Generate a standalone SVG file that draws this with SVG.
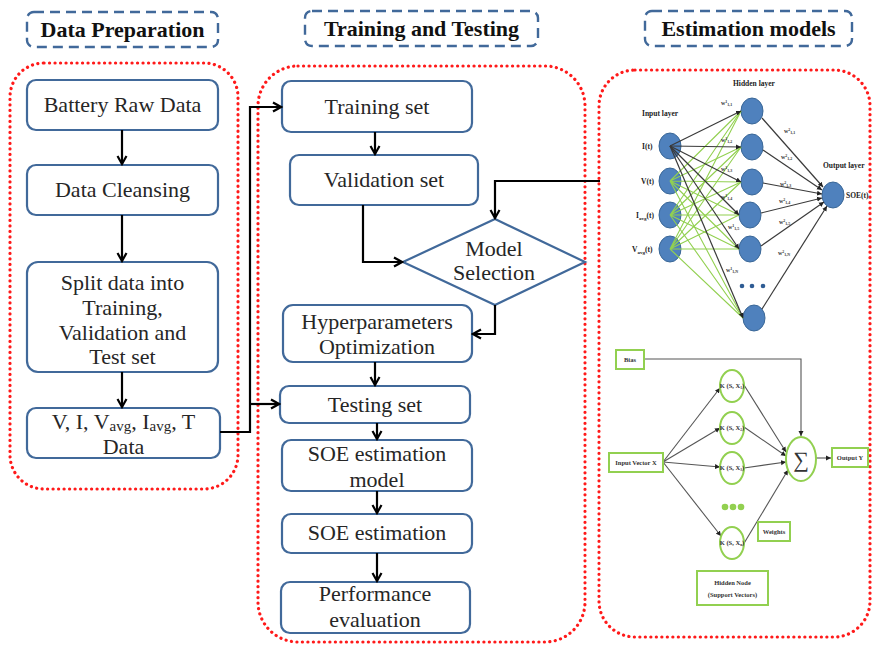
<svg xmlns="http://www.w3.org/2000/svg" width="874" height="645" viewBox="0 0 874 645">
  <style>
    .hdr { fill: none; stroke: #41699a; stroke-width: 2.4; stroke-dasharray: 10 6; }
    .hdrt { font-family: "Liberation Serif", serif; font-weight: bold; font-size: 22px; fill: #111; text-anchor: middle; }
    .zone { fill: none; stroke: #ff1a1a; stroke-width: 3.2; stroke-dasharray: 0.1 5.4; stroke-linecap: round; }
    .box { fill: #fff; stroke: #41699a; stroke-width: 2.2; }
    .t { font-family: "Liberation Serif", serif; font-size: 22px; fill: #262626; text-anchor: middle; }
    .flow { fill: none; stroke: #000; stroke-width: 2.2; }
    .nn { fill: #4f81bd; stroke: #3a6797; stroke-width: 1; }
    .nl { font-family: "Liberation Serif", serif; font-weight: bold; font-size: 7.5px; fill: #222; }
    .wl { font-family: "Liberation Serif", serif; font-weight: bold; font-size: 6px; fill: #333; }
    .gl { stroke: #92d050; stroke-width: 1.1; fill: none; }
    .bl { stroke: #3a3a3a; stroke-width: 1.2; fill: none; }
    .gbox { fill: #fff; stroke: #92d050; stroke-width: 2; }
    .gnode { fill: #fff; stroke: #92d050; stroke-width: 2; }
    .st { font-family: "Liberation Serif", serif; font-weight: bold; font-size: 6.5px; fill: #333; text-anchor: middle; }
    .sl { stroke: #555; stroke-width: 1.1; fill: none; }
  </style>
  <defs>
    <marker id="arr" markerUnits="userSpaceOnUse" markerWidth="12" markerHeight="12" refX="10" refY="6" orient="auto">
      <path d="M2,1.5 L10,6 L2,10.5" fill="none" stroke="#000" stroke-width="2.2"/>
    </marker>
    <marker id="tri" markerUnits="userSpaceOnUse" markerWidth="6" markerHeight="6" refX="5" refY="3" orient="auto">
      <path d="M0,0.5 L5,3 L0,5.5 z" fill="#222"/>
    </marker>
  </defs>

  <rect width="874" height="645" fill="#fff"/>

  <!-- section headers -->
  <g id="hdr-prep">
    <rect class="hdr" x="27" y="12" width="191" height="35" rx="7"/>
    <text class="hdrt" x="122.5" y="37">Data Preparation</text>
  </g>
  <g id="hdr-train">
    <rect class="hdr" x="305" y="11" width="233" height="35" rx="7"/>
    <text class="hdrt" x="421.5" y="36">Training and Testing</text>
  </g>
  <g id="hdr-models">
    <rect class="hdr" x="645" y="11" width="207" height="35" rx="7"/>
    <text class="hdrt" x="748.5" y="36">Estimation models</text>
  </g>

  <!-- dotted zones -->
  <rect class="zone" x="10" y="63" width="228" height="426" rx="34"/>
  <rect class="zone" x="258" y="66" width="327" height="576" rx="40"/>
  <rect class="zone" x="599" y="70" width="271" height="567" rx="36"/>

  <!-- data preparation column -->
  <g id="battery-raw">
    <rect class="box" x="27" y="80" width="191" height="50" rx="9"/>
    <text class="t" x="122.5" y="112">Battery Raw Data</text>
  </g>
  <g id="cleansing">
    <rect class="box" x="27" y="165" width="191" height="50" rx="9"/>
    <text class="t" x="122.5" y="197">Data Cleansing</text>
  </g>
  <g id="split">
    <rect class="box" x="27" y="262" width="191" height="110" rx="11"/>
    <text class="t" x="122.5" y="290">Split data into</text>
    <text class="t" x="122.5" y="315">Training,</text>
    <text class="t" x="122.5" y="340">Validation and</text>
    <text class="t" x="122.5" y="364">Test set</text>
  </g>
  <g id="features">
    <rect class="box" x="27" y="408" width="193" height="50" rx="9"/>
    <text class="t" x="123.5" y="429">V, I, V<tspan font-size="15" dy="2">avg</tspan><tspan dy="-2">, I</tspan><tspan font-size="15" dy="2">avg</tspan><tspan dy="-2">, T</tspan></text>
    <text class="t" x="123.5" y="454">Data</text>
  </g>

  <!-- training and testing column -->
  <g id="training">
    <rect class="box" x="282" y="81" width="190" height="51" rx="9"/>
    <text class="t" x="377" y="114">Training set</text>
  </g>
  <g id="validation">
    <rect class="box" x="290" y="155" width="188" height="50" rx="9"/>
    <text class="t" x="384" y="187">Validation set</text>
  </g>
  <g id="model-selection">
    <polygon points="403,262 495,219 585,262 495,305" fill="#fff" stroke="#41699a" stroke-width="2.2"/>
    <text class="t" x="494" y="256" font-size="17">Model</text>
    <text class="t" x="494" y="280" font-size="17">Selection</text>
  </g>
  <g id="hyperparams">
    <rect class="box" x="283" y="305" width="189" height="57" rx="10"/>
    <text class="t" x="377" y="329">Hyperparameters</text>
    <text class="t" x="377" y="354">Optimization</text>
  </g>
  <g id="testing">
    <rect class="box" x="280" y="386" width="190" height="37" rx="9"/>
    <text class="t" x="375" y="412">Testing set</text>
  </g>
  <g id="soe-model">
    <rect class="box" x="282" y="440" width="190" height="51" rx="9"/>
    <text class="t" x="377" y="461">SOE estimation</text>
    <text class="t" x="377" y="487">model</text>
  </g>
  <g id="soe-est">
    <rect class="box" x="282" y="514" width="190" height="39" rx="9"/>
    <text class="t" x="377" y="540">SOE estimation</text>
  </g>
  <g id="performance">
    <rect class="box" x="281" y="582" width="189" height="51" rx="9"/>
    <text class="t" x="375" y="601">Performance</text>
    <text class="t" x="375" y="627">evaluation</text>
  </g>

  <!-- flow connectors -->
  <g id="connectors">
    <line class="flow" x1="122" y1="130" x2="122" y2="164" marker-end="url(#arr)"/>
    <line class="flow" x1="122" y1="215" x2="122" y2="261" marker-end="url(#arr)"/>
    <line class="flow" x1="122" y1="372" x2="122" y2="407" marker-end="url(#arr)"/>
    <polyline class="flow" points="220,432 250,432 250,107 281,107" marker-end="url(#arr)"/>
    <polyline class="flow" points="250,404 279,404" marker-end="url(#arr)"/>
    <line class="flow" x1="375" y1="132" x2="375" y2="154" marker-end="url(#arr)"/>
    <polyline class="flow" points="363,205 363,262 402,262" marker-end="url(#arr)"/>
    <polyline class="flow" points="600,181 495,181 495,218" marker-end="url(#arr)"/>
    <polyline class="flow" points="495,305 495,334 473,334" marker-end="url(#arr)"/>
    <line class="flow" x1="375" y1="362" x2="375" y2="385" marker-end="url(#arr)"/>
    <line class="flow" x1="377" y1="423" x2="377" y2="439" marker-end="url(#arr)"/>
    <line class="flow" x1="377" y1="491" x2="377" y2="513" marker-end="url(#arr)"/>
    <line class="flow" x1="377" y1="553" x2="377" y2="581" marker-end="url(#arr)"/>
  </g>

  <!-- neural network model -->
  <g id="ann">
    <text class="nl" x="642" y="116">Input layer</text>
    <text class="nl" x="733" y="86">Hidden layer</text>
    <text class="nl" x="823" y="168">Output layer</text>

    <g id="ann-input-nodes">
      <ellipse class="nn" cx="670" cy="146" rx="11" ry="13"/>
      <ellipse class="nn" cx="670" cy="181" rx="11" ry="13"/>
      <ellipse class="nn" cx="670" cy="215" rx="11" ry="13"/>
      <ellipse class="nn" cx="670" cy="249" rx="11" ry="13"/>
    </g>
    <g id="ann-hidden-nodes">
      <ellipse class="nn" cx="752" cy="111" rx="11" ry="13"/>
      <ellipse class="nn" cx="752" cy="147" rx="11" ry="13"/>
      <ellipse class="nn" cx="752" cy="182" rx="11" ry="13"/>
      <ellipse class="nn" cx="750" cy="215" rx="11" ry="13"/>
      <ellipse class="nn" cx="750" cy="249" rx="11" ry="13"/>
      <ellipse class="nn" cx="754" cy="318" rx="11" ry="13"/>
      <circle cx="742" cy="286" r="2.3" fill="#2f5c94"/>
      <circle cx="752" cy="286" r="2.3" fill="#2f5c94"/>
      <circle cx="763" cy="286" r="2.3" fill="#2f5c94"/>
    </g>
    <g id="ann-output-node">
      <ellipse class="nn" cx="833" cy="195" rx="11" ry="13"/>
    </g>

    <!-- input to hidden weights -->
    <g id="ann-links-green">
      <path class="gl" d="M670,181 L741,111 M670,181 L741,147 M670,181 L741,182 M670,181 L739,215 M670,181 L739,249 M670,181 L743,318"/>
      <path class="gl" d="M670,215 L741,111 M670,215 L741,147 M670,215 L741,182 M670,215 L739,215 M670,215 L739,249 M670,215 L743,318"/>
      <path class="gl" d="M670,249 L741,111 M670,249 L741,147 M670,249 L741,182 M670,249 L739,215 M670,249 L739,249 M670,249 L743,318"/>
    </g>
    <g id="ann-links-black">
      <line class="bl" x1="670" y1="146" x2="741" y2="111" marker-end="url(#tri)"/>
      <line class="bl" x1="670" y1="146" x2="741" y2="147" marker-end="url(#tri)"/>
      <line class="bl" x1="670" y1="146" x2="741" y2="182" marker-end="url(#tri)"/>
      <line class="bl" x1="670" y1="146" x2="739" y2="215" marker-end="url(#tri)"/>
      <line class="bl" x1="670" y1="146" x2="739" y2="249" marker-end="url(#tri)"/>
      <line class="bl" x1="670" y1="146" x2="743" y2="318" marker-end="url(#tri)"/>
    </g>
    <!-- hidden to output weights -->
    <g id="ann-links-out">
      <line class="bl" x1="762" y1="118" x2="823" y2="187" marker-end="url(#tri)"/>
      <line class="bl" x1="763" y1="150" x2="822" y2="190" marker-end="url(#tri)"/>
      <line class="bl" x1="763" y1="183" x2="822" y2="194" marker-end="url(#tri)"/>
      <line class="bl" x1="761" y1="213" x2="822" y2="198" marker-end="url(#tri)"/>
      <line class="bl" x1="761" y1="246" x2="824" y2="202" marker-end="url(#tri)"/>
      <line class="bl" x1="762" y1="309" x2="827" y2="206" marker-end="url(#tri)"/>
    </g>

    <text class="nl" x="642" y="149">I(t)</text>
    <text class="nl" x="641" y="184">V(t)</text>
    <text class="nl" x="636" y="218">I<tspan font-size="5" dy="1.5">avg</tspan><tspan dy="-1.5">(t)</tspan></text>
    <text class="nl" x="632" y="252">V<tspan font-size="5" dy="1.5">avg</tspan><tspan dy="-1.5">(t)</tspan></text>
    <text class="nl" x="846" y="198" font-size="7">SOE(t)</text>

    <g id="ann-weights-1">
      <text class="wl" x="721" y="105">w<tspan font-size="4" dy="-2">1</tspan><tspan font-size="4" dy="3">1,1</tspan></text>
      <text class="wl" x="721" y="142">w<tspan font-size="4" dy="-2">1</tspan><tspan font-size="4" dy="3">1,2</tspan></text>
      <text class="wl" x="721" y="171">w<tspan font-size="4" dy="-2">1</tspan><tspan font-size="4" dy="3">1,3</tspan></text>
      <text class="wl" x="721" y="199">w<tspan font-size="4" dy="-2">1</tspan><tspan font-size="4" dy="3">1,4</tspan></text>
      <text class="wl" x="728" y="229">w<tspan font-size="4" dy="-2">1</tspan><tspan font-size="4" dy="3">1,5</tspan></text>
      <text class="wl" x="726" y="272">w<tspan font-size="4" dy="-2">1</tspan><tspan font-size="4" dy="3">1,N</tspan></text>
    </g>
    <g id="ann-weights-2">
      <text class="wl" x="784" y="133">w<tspan font-size="4" dy="-2">2</tspan><tspan font-size="4" dy="3">1,1</tspan></text>
      <text class="wl" x="781" y="159">w<tspan font-size="4" dy="-2">2</tspan><tspan font-size="4" dy="3">1,2</tspan></text>
      <text class="wl" x="780" y="186">w<tspan font-size="4" dy="-2">2</tspan><tspan font-size="4" dy="3">1,3</tspan></text>
      <text class="wl" x="779" y="203">w<tspan font-size="4" dy="-2">2</tspan><tspan font-size="4" dy="3">1,4</tspan></text>
      <text class="wl" x="779" y="224">w<tspan font-size="4" dy="-2">2</tspan><tspan font-size="4" dy="3">1,5</tspan></text>
      <text class="wl" x="778" y="255">w<tspan font-size="4" dy="-2">2</tspan><tspan font-size="4" dy="3">1,N</tspan></text>
    </g>
  </g>

  <!-- support vector model -->
  <g id="svr">
    <g id="svr-links">
      <polyline class="sl" points="644,359 801,359 801,436" marker-end="url(#tri)"/>
      <line class="sl" x1="663" y1="462" x2="720" y2="388" marker-end="url(#tri)"/>
      <line class="sl" x1="663" y1="462" x2="720" y2="428" marker-end="url(#tri)"/>
      <line class="sl" x1="663" y1="462" x2="720" y2="467" marker-end="url(#tri)"/>
      <line class="sl" x1="663" y1="462" x2="721" y2="536" marker-end="url(#tri)"/>
      <line class="sl" x1="744" y1="385" x2="786" y2="452" marker-end="url(#tri)"/>
      <line class="sl" x1="744" y1="427" x2="786" y2="456" marker-end="url(#tri)"/>
      <line class="sl" x1="744" y1="468" x2="786" y2="462" marker-end="url(#tri)"/>
      <line class="sl" x1="743" y1="545" x2="788" y2="470" marker-end="url(#tri)"/>
      <line class="sl" x1="816" y1="458" x2="831" y2="458" marker-end="url(#tri)"/>
    </g>
    <g id="svr-bias">
      <rect class="gbox" x="616" y="350" width="28" height="19"/>
      <text class="st" x="630" y="362">Bias</text>
    </g>
    <g id="svr-input">
      <rect class="gbox" x="609" y="453" width="54" height="19"/>
      <text class="st" x="636" y="465">Input Vector X</text>
    </g>
    <g id="svr-k1">
      <ellipse class="gnode" cx="732" cy="386" rx="12" ry="16"/>
      <text class="st" x="732" y="388" font-size="5">K (S, X<tspan font-size="3.5" dy="1">1</tspan><tspan dy="-1">)</tspan></text>
    </g>
    <g id="svr-k2">
      <ellipse class="gnode" cx="732" cy="428" rx="12" ry="16"/>
      <text class="st" x="732" y="430" font-size="5">K (S, X<tspan font-size="3.5" dy="1">2</tspan><tspan dy="-1">)</tspan></text>
    </g>
    <g id="svr-k3">
      <ellipse class="gnode" cx="732" cy="468" rx="12" ry="16"/>
      <text class="st" x="732" y="470" font-size="5">K (S, X<tspan font-size="3.5" dy="1">3</tspan><tspan dy="-1">)</tspan></text>
    </g>
    <circle cx="725" cy="507" r="3.3" fill="#92d050"/>
    <circle cx="733" cy="507" r="3.3" fill="#92d050"/>
    <circle cx="741" cy="507" r="3.3" fill="#92d050"/>
    <g id="svr-kn">
      <ellipse class="gnode" cx="732" cy="543" rx="12" ry="16"/>
      <text class="st" x="732" y="545" font-size="5">K (S, X<tspan font-size="3.5" dy="1">n</tspan><tspan dy="-1">)</tspan></text>
    </g>
    <g id="svr-sum">
      <ellipse class="gnode" cx="801" cy="459" rx="15" ry="22"/>
      <text x="801" y="467" font-family="Liberation Serif, serif" font-size="22" fill="#333" text-anchor="middle">∑</text>
    </g>
    <g id="svr-output">
      <rect class="gbox" x="832" y="448" width="36" height="19"/>
      <text class="st" x="850" y="460">Output Y</text>
    </g>
    <g id="svr-weights">
      <rect class="gbox" x="758" y="522" width="32" height="19"/>
      <text class="st" x="774" y="534">Weights</text>
    </g>
    <g id="svr-hidden">
      <rect class="gbox" x="697" y="571" width="71" height="34"/>
      <text class="st" x="732.5" y="585">Hidden Node</text>
      <text class="st" x="732.5" y="597">(Support Vectors)</text>
    </g>
  </g>
</svg>
